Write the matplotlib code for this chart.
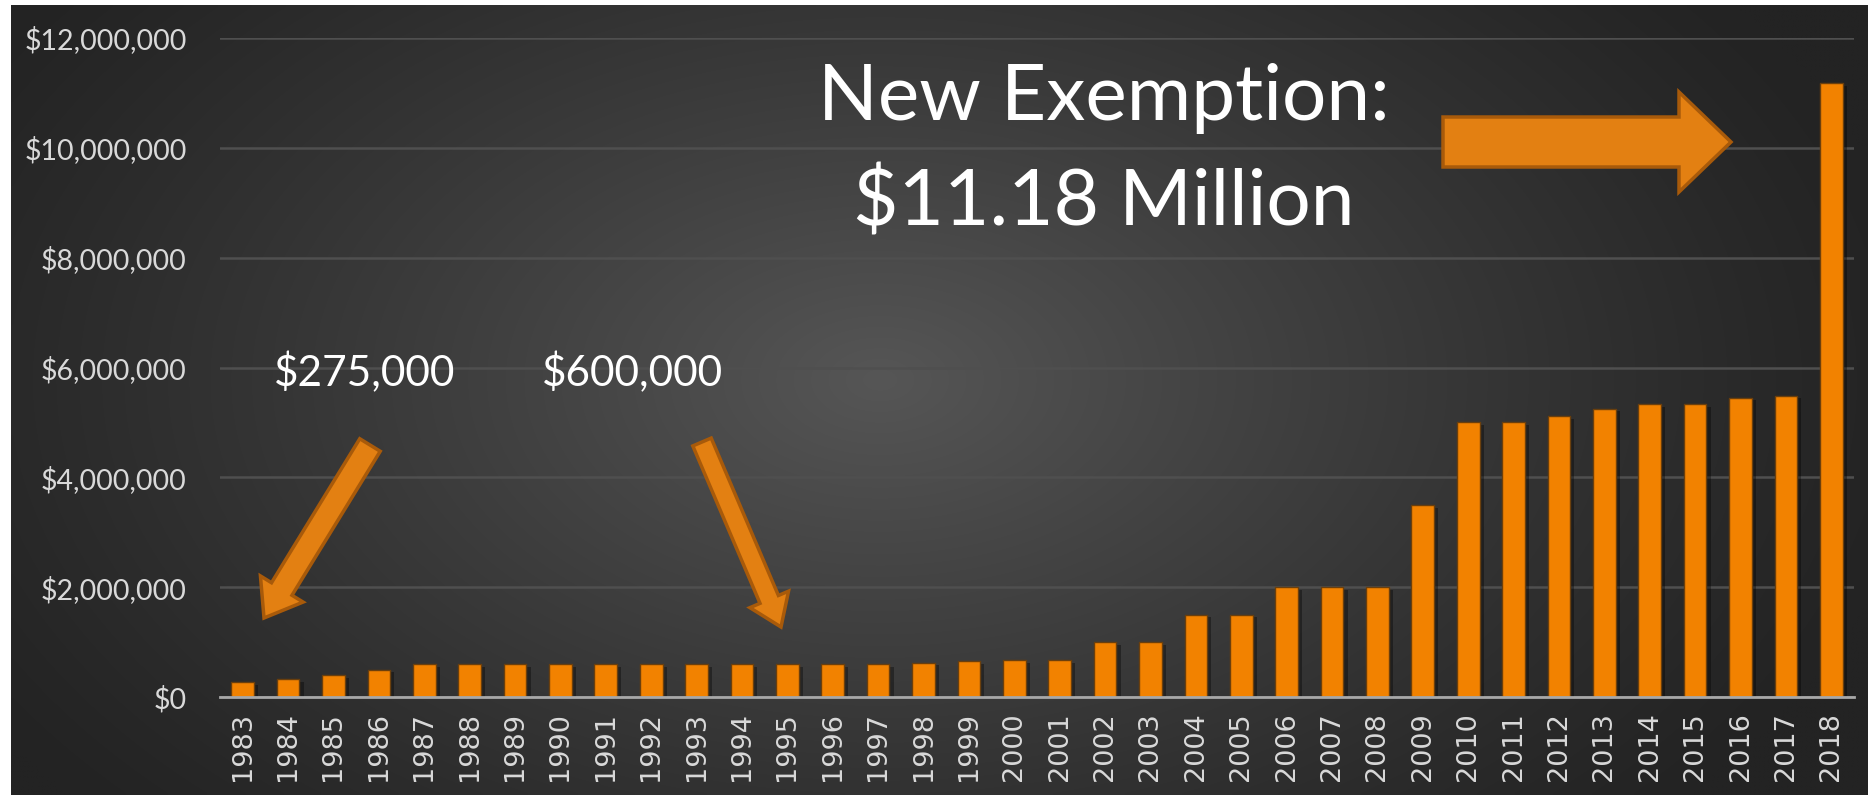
import numpy as np
import matplotlib
matplotlib.use("Agg")
import matplotlib.pyplot as plt
from matplotlib.patches import Polygon
import matplotlib.patheffects as pe
from matplotlib.ticker import FuncFormatter

years = [str(y) for y in range(1983, 2019)]
exemption = [275000, 325000, 400000, 500000, 600000, 600000, 600000, 600000,
             600000, 600000, 600000, 600000, 600000, 600000, 600000, 625000,
             650000, 675000, 675000, 1000000, 1000000, 1500000, 1500000,
             2000000, 2000000, 2000000, 3500000, 5000000, 5000000, 5120000,
             5250000, 5340000, 5340000, 5450000, 5490000, 11180000]
y_ticks = [0, 2000000, 4000000, 6000000, 8000000, 10000000, 12000000]

W, H = 1868, 795
fig = plt.figure(figsize=(W / 100, H / 100), dpi=100, facecolor="white")

# background gradient panel
bg = fig.add_axes([11 / W, 0, (W - 11) / W, (H - 5) / H])
bg.set_axis_off()
xx, yy = np.meshgrid(np.linspace(11, W, 400), np.linspace(5, H, 200))
r = np.sqrt(((xx - 880) / 1050) ** 2 + ((yy - 380) / 650) ** 2)
r = np.clip(r, 0, 1)
c_in, c_out = 0x56 / 255, 0x23 / 255
val = c_out + (c_in - c_out) * (1 - r) ** 1.2
img = np.dstack([val, val, val])
bg.imshow(img, aspect="auto", extent=[0, 1, 0, 1], interpolation="bilinear")
bg.set_xlim(0, 1)
bg.set_ylim(0, 1)

ax = fig.add_axes([220 / W, 1 - 697 / H, (1854 - 220) / W, (697 - 38) / H])
ax.set_facecolor("none")
x = np.arange(len(years))
bars = ax.bar(x, exemption, width=0.5, color="#F28200", edgecolor="#6b3f0c",
              linewidth=1.0, zorder=3)
for b in bars:
    b.set_path_effects([pe.SimplePatchShadow(offset=(3, -2), shadow_rgbFace="black", alpha=0.35),
                        pe.Normal()])
ax.set_xlim(-0.5, len(years) - 0.5)
ax.set_ylim(0, 12000000)
ax.set_yticks(y_ticks)
ax.yaxis.set_major_formatter(FuncFormatter(lambda v, p: "${:,.0f}".format(v)))
ax.set_xticks(x)
ax.set_xticklabels(years, rotation=90, fontsize=19.5, color="#D9D9D9",
                   family="DejaVu Sans")
for lab in ax.get_yticklabels():
    lab.set_fontfamily("Lato")
    lab.set_fontsize(20.5)
    lab.set_color("#D9D9D9")
ax.tick_params(axis="both", length=0)
ax.tick_params(axis="y", pad=24)
ax.tick_params(axis="x", pad=11)
ax.grid(axis="y", color="#4f4f4f", linewidth=1.8, zorder=0)
ax.set_axisbelow(True)
for s in ["top", "right", "left"]:
    ax.spines[s].set_visible(False)
ax.spines["bottom"].set_color("#A8A8A8")
ax.spines["bottom"].set_linewidth(2)
ax.spines["bottom"].set_zorder(4)


def px(pt):
    return (pt[0] / W, 1 - pt[1] / H)


def arrow(tail, tip, w, hw, hl):
    T = np.array(tail, float)
    P = np.array(tip, float)
    d = (P - T) / np.linalg.norm(P - T)
    n = np.array([-d[1], d[0]])
    Hh = P - d * hl
    pts = [T + n * w / 2, Hh + n * w / 2, Hh + n * hw / 2, P,
           Hh - n * hw / 2, Hh - n * w / 2, T - n * w / 2]
    poly = Polygon([px(p) for p in pts], closed=True, transform=fig.transFigure,
                   facecolor="#E38012", edgecolor="#A85A0A", linewidth=2.5,
                   zorder=10)
    fig.patches.append(poly)


arrow((370, 445), (264, 618), 24, 50, 34)
arrow((702, 442), (781, 627), 20, 42, 30)
arrow((1443, 142), (1731, 142), 50, 100, 52)

fig.text(1104 / W, 1 - 99 / H, "New Exemption:", ha="center", va="center",
         fontsize=56.5, color="white", family="Lato")
fig.text(1104 / W, 1 - 203 / H, "$11.18 Million", ha="center", va="center",
         fontsize=56.5, color="white", family="Lato")
fig.text(365 / W, 1 - 373 / H, "$275,000", ha="center", va="center",
         fontsize=30.5, color="white", family="Lato")
fig.text(632 / W, 1 - 373 / H, "$600,000", ha="center", va="center",
         fontsize=30.5, color="white", family="Lato")

fig.savefig("out.png", dpi=100, facecolor="white")
